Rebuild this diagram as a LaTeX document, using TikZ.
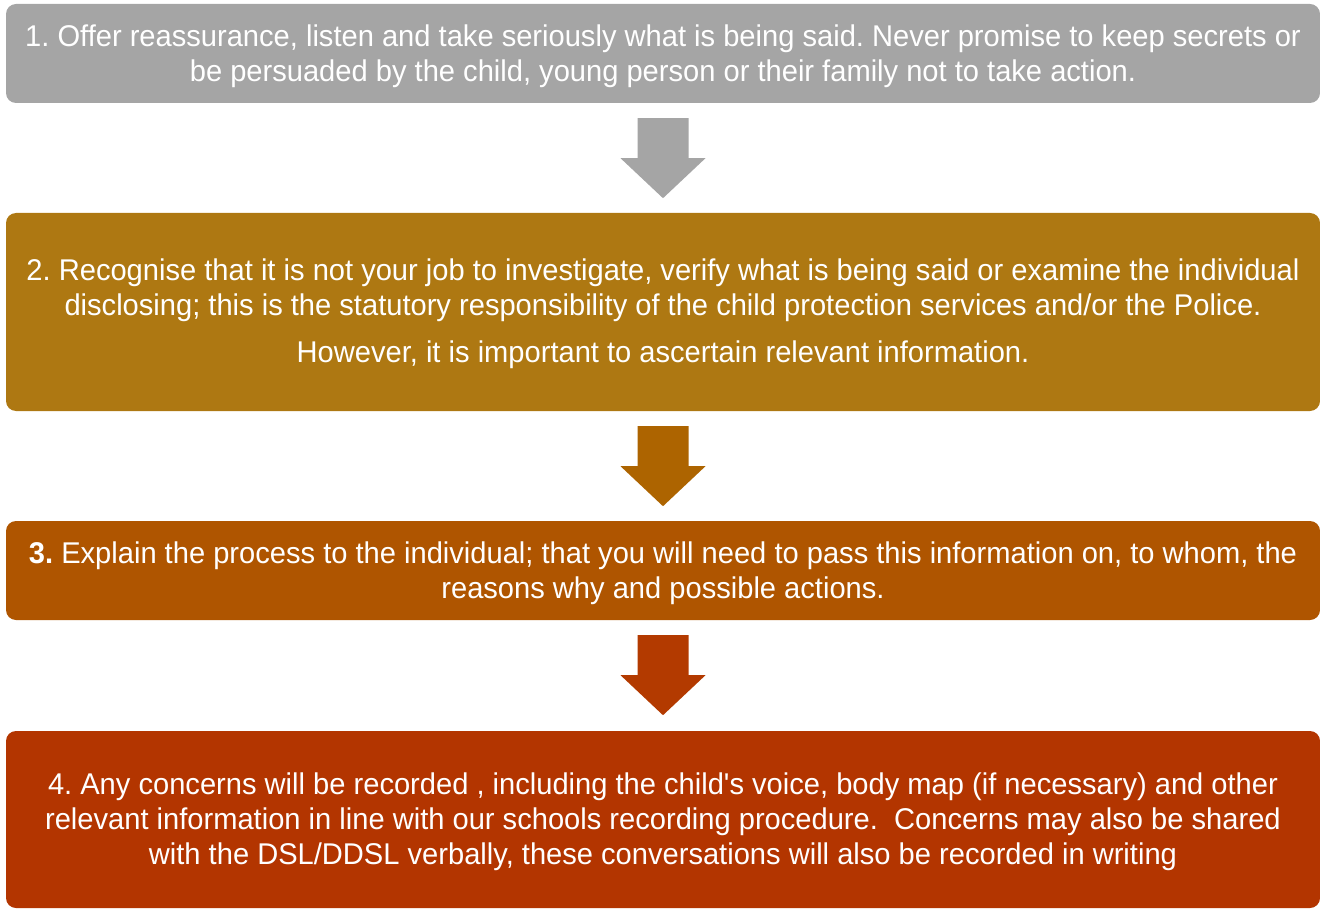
\documentclass[tikz,border=0pt]{standalone}
\usepackage{fontspec}
\setmainfont{Liberation Sans}[FakeStretch=0.97]
\newfontfamily\nomapfont{Liberation Sans}[FakeStretch=0.97]
\usetikzlibrary{calc}
\definecolor{c1}{RGB}{165,165,165}
\definecolor{c2}{RGB}{174,120,18}
\definecolor{ca2}{RGB}{173,100,0}
\definecolor{c3}{RGB}{175,85,0}
\definecolor{ca3}{RGB}{179,58,0}
\definecolor{c4}{RGB}{179,53,0}
\frenchspacing
\begin{document}
\begin{tikzpicture}[x=1pt,y=-1pt,
  box/.style={rounded corners=10pt, minimum width=1314pt, inner sep=0pt},
  txt/.style={inner sep=0pt, text=white, align=center, font=\fontsize{30}{35}\selectfont},
  barrow/.pic={\fill[#1] (-25.5,0) -- (25.5,0) -- (25.5,40) -- (42.5,40) -- (0,80) -- (-42.5,40) -- (-25.5,40) -- cycle;}]
\useasboundingbox (0,0) rectangle (1320,909);
\node[box, fill=c1, minimum height=99pt] (b1) at (663,53.5) {};
\node[box, fill=c2, minimum height=198pt] (b2) at (663,312) {};
\node[box, fill=c3, minimum height=99pt] (b3) at (663,570.5) {};
\node[box, fill=c4, minimum height=177pt] (b4) at (663,819.5) {};
\node[txt] (t1) at ($(b1.center)+(0,3)$) {1. Offer reassurance, listen and take seriously what is being said. Never promise to keep secrets or\\be persuaded by the child, young person or their family not to take action.};
\node[txt] (t2) at ($(b2.center)+(0,2)$) {2. Recognise that it is not your job to investigate, verify what is being said or examine the individual\\disclosing; this is the statutory responsibility of the child protection services and/or the Police.\\[12pt]However, it is important to ascertain relevant information.};
\node[txt] (t3) at ($(b3.center)+(0,3)$) {\textbf{3.} Explain the process to the individual; that you will need to pass this information on, to whom, the\\reasons why and possible actions.};
\node[txt] (t4) at ($(b4.center)+(0,2)$) {4. Any concerns will be recorded , including the child{\nomapfont'}s voice, body map (if necessary) and other\\relevant information in line with our schools recording procedure.\ \ Concerns may also be shared\\with the DSL/DDSL verbally, these conversations will also be recorded in writing};
\coordinate (a1) at ($(b1.south)+(0,15)$);
\coordinate (a2) at ($(b2.south)+(0,15)$);
\coordinate (a3) at ($(b3.south)+(0,15)$);
\pic at (a1) {barrow=c1};
\pic at (a2) {barrow=ca2};
\pic at (a3) {barrow=ca3};
\end{tikzpicture}
\end{document}
